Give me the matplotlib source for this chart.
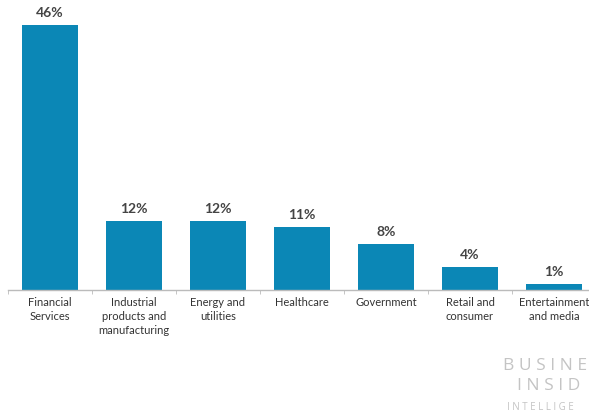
import matplotlib.pyplot as plt
import numpy as np

plt.rcParams['font.family'] = ['Lato', 'DejaVu Sans']

categories = ['Financial\nServices', 'Industrial\nproducts and\nmanufacturing', 'Energy and\nutilities',
              'Healthcare', 'Government', 'Retail and\nconsumer', 'Entertainment\nand media']
values = [46, 12, 12, 11, 8, 4, 1]
bar_labels = ['46%', '12%', '12%', '11%', '8%', '4%', '1%']

fig = plt.figure(figsize=(5.89, 4.17), dpi=100)
ax = fig.add_axes([8 / 589, (417 - 290) / 417, 1 - 8 / 589, 290 / 417])

x = np.arange(len(values))
ax.bar(x, values, width=56 / 84, color='#0b87b6')
for xi, v, lab in zip(x, values, bar_labels):
    ax.text(xi, v + 1.0, lab, ha='center', va='bottom', fontsize=10, fontweight='bold', color='#444444')

ax.set_xlim(-0.5, (589 - 50) / 84)
ax.set_ylim(0, 46 * 290 / 265)

for s in ['top', 'right', 'left']:
    ax.spines[s].set_visible(False)
ax.spines['bottom'].set_color('#bbbbbb')
ax.spines['bottom'].set_linewidth(1)
ax.set_yticks([])
ax.set_xticks(x)
ax.set_xticklabels(categories, fontsize=8, color='#333333', linespacing=1.35)
ax.tick_params(axis='x', which='major', length=0, pad=5)
ax.set_xticks(np.arange(len(values)) - 0.5, minor=True)
ax.tick_params(axis='x', which='minor', length=3, color='#bbbbbb')

# watermark (cut off by the image edge in the reference)
fig.text(503 / 589, 1 - 366 / 417, 'B U S I N E', fontsize=12.5, color='#c4c4c4', va='center', ha='left',
         family='Open Sans')
fig.text(517 / 589, 1 - 386 / 417, 'I N S I D', fontsize=12.5, color='#c4c4c4', va='center', ha='left',
         family='Open Sans')
fig.text(507 / 589, 1 - 408 / 417, 'I N T E L L I G E', fontsize=7, color='#c4c4c4', va='center', ha='left',
         family='Open Sans')

plt.savefig('out.png', dpi=100)
